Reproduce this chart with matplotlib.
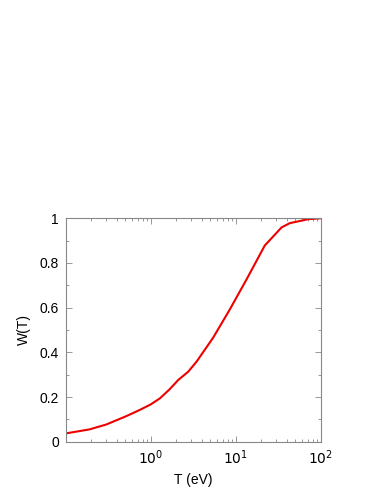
import matplotlib
matplotlib.use("Agg")
import matplotlib.pyplot as plt
from matplotlib.ticker import LogLocator, MultipleLocator, NullFormatter, FixedLocator

plt.rcParams['font.family'] = ['Liberation Sans', 'DejaVu Sans']

# W(T) curve
T = [0.1, 0.19, 0.3, 0.52, 0.74, 1.0, 1.28, 1.67, 2.1, 2.5, 2.75, 3.45, 5.4, 8.5, 13.4, 21.9, 34.5, 43.0, 71.0, 100.0]
W = [0.037, 0.055, 0.077, 0.115, 0.142, 0.167, 0.194, 0.235, 0.276, 0.300, 0.313, 0.358, 0.465, 0.592, 0.727, 0.878, 0.959, 0.978, 0.996, 1.0]

fig = plt.figure(figsize=(3.87, 5.01), dpi=100)
ax = fig.add_axes([0.170, 0.1184, 0.659, 0.4459])

ax.plot(T, W, color='#ee0000', lw=1.5)

ax.set_xscale('log')
ax.set_xlim(0.1, 100)
ax.set_ylim(0, 1)

ax.xaxis.set_major_locator(FixedLocator([1, 10, 100]))
ax.set_xticklabels(['$10^0$', '$10^1$', '$10^2$'])
ax.xaxis.set_minor_locator(LogLocator(base=10, subs=range(2, 10)))
ax.xaxis.set_minor_formatter(NullFormatter())
ax.yaxis.set_minor_locator(MultipleLocator(0.1))
ax.set_yticks([0, 0.2, 0.4, 0.6, 0.8, 1.0])
ax.set_yticklabels(['0', '0.2', '0.4', '0.6', '0.8', '1'])

ax.tick_params(which='both', direction='in', top=True, right=True, colors='#888888', labelcolor='black', labelsize=10, pad=5)
ax.tick_params(which='major', length=4, width=0.6)
ax.tick_params(which='minor', length=2, width=0.6)
for s in ax.spines.values():
    s.set_color('#888888')
    s.set_linewidth(0.8)

ax.set_xlabel('T (eV)', fontsize=10, labelpad=4)
ax.set_ylabel('W(T)', fontsize=10, labelpad=6)

fig.savefig('out.png', dpi=100)
